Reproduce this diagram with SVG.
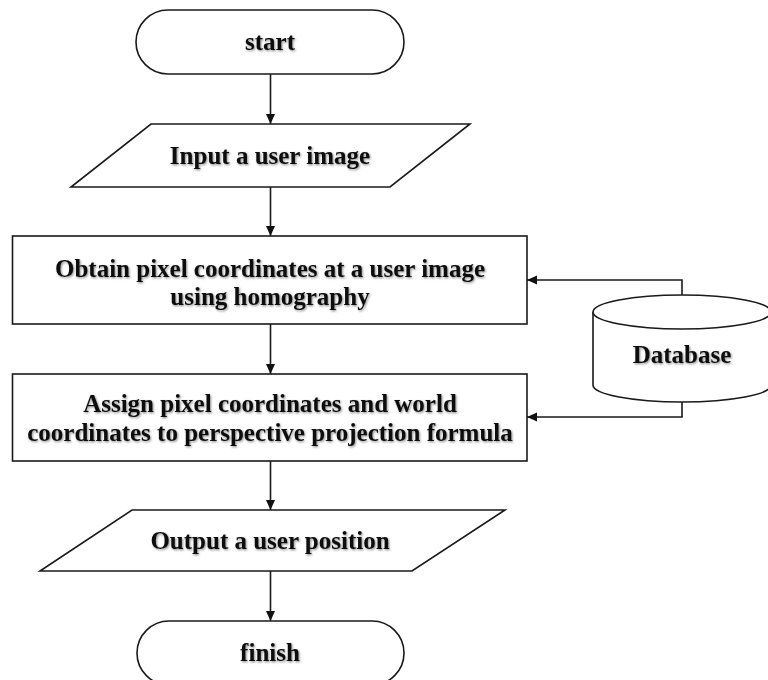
<svg xmlns="http://www.w3.org/2000/svg" width="768" height="680" viewBox="0 0 768 680">
<defs>
<marker id="ah" viewBox="0 0 10 10" refX="10" refY="5" markerWidth="10" markerHeight="10" markerUnits="userSpaceOnUse" orient="auto">
<path d="M0,0.5 L10,5 L0,9.5 Z" fill="#111"/>
</marker>
<filter id="sh" x="-5%" y="-20%" width="110%" height="140%">
<feDropShadow dx="1" dy="1.2" stdDeviation="0.8" flood-color="#000" flood-opacity="0.45"/>
</filter>
<style>
.s{fill:#fff;stroke:#1a1a1a;stroke-width:1.6}
.c{fill:none;stroke:#1a1a1a;stroke-width:1.6}
.t{font-family:"Liberation Serif","Times New Roman",serif;font-weight:bold;font-size:25px;fill:#111;text-anchor:middle;filter:url(#sh)}
</style>
</defs>
<rect width="768" height="680" fill="#fff"/>
<g id="connectors">
<line class="c" x1="270.5" y1="74" x2="270.5" y2="124" marker-end="url(#ah)"/>
<line class="c" x1="270.5" y1="187" x2="270.5" y2="236" marker-end="url(#ah)"/>
<line class="c" x1="270.5" y1="324" x2="270.5" y2="374" marker-end="url(#ah)"/>
<line class="c" x1="270.5" y1="461" x2="270.5" y2="510" marker-end="url(#ah)"/>
<line class="c" x1="270.5" y1="571" x2="270.5" y2="621" marker-end="url(#ah)"/>
<polyline class="c" points="682,295 682,280 527,280" marker-end="url(#ah)"/>
<polyline class="c" points="682,402 682,417 527,417" marker-end="url(#ah)"/>
</g>
<g id="start">
<rect class="s" x="136" y="10" width="268" height="64" rx="32" ry="32"/>
<text class="t" x="270" y="50">start</text>
</g>
<g id="input">
<polygon class="s" points="151,124 470,124 390,187 71,187"/>
<text class="t" x="270" y="164">Input a user image</text>
</g>
<g id="obtain">
<rect class="s" x="12.5" y="236" width="514.5" height="88"/>
<text class="t" x="270" y="277">Obtain pixel coordinates at a user image</text>
<text class="t" x="270" y="305">using homography</text>
</g>
<g id="database">
<path class="s" d="M593,312 L593,385 A89,17 0 0 0 771,385 L771,312"/>
<ellipse class="s" cx="682" cy="312" rx="89" ry="17"/>
<text class="t" x="682" y="363">Database</text>
</g>
<g id="assign">
<rect class="s" x="12.5" y="374" width="514.5" height="87"/>
<text class="t" x="270" y="412">Assign pixel coordinates and world</text>
<text class="t" x="270" y="441">coordinates to perspective projection formula</text>
</g>
<g id="output">
<polygon class="s" points="132,510 505,510 412,571 40,571"/>
<text class="t" x="270" y="549">Output a user position</text>
</g>
<g id="finish">
<rect class="s" x="137" y="621" width="267" height="64" rx="32" ry="32"/>
<text class="t" x="270" y="661">finish</text>
</g>
</svg>
